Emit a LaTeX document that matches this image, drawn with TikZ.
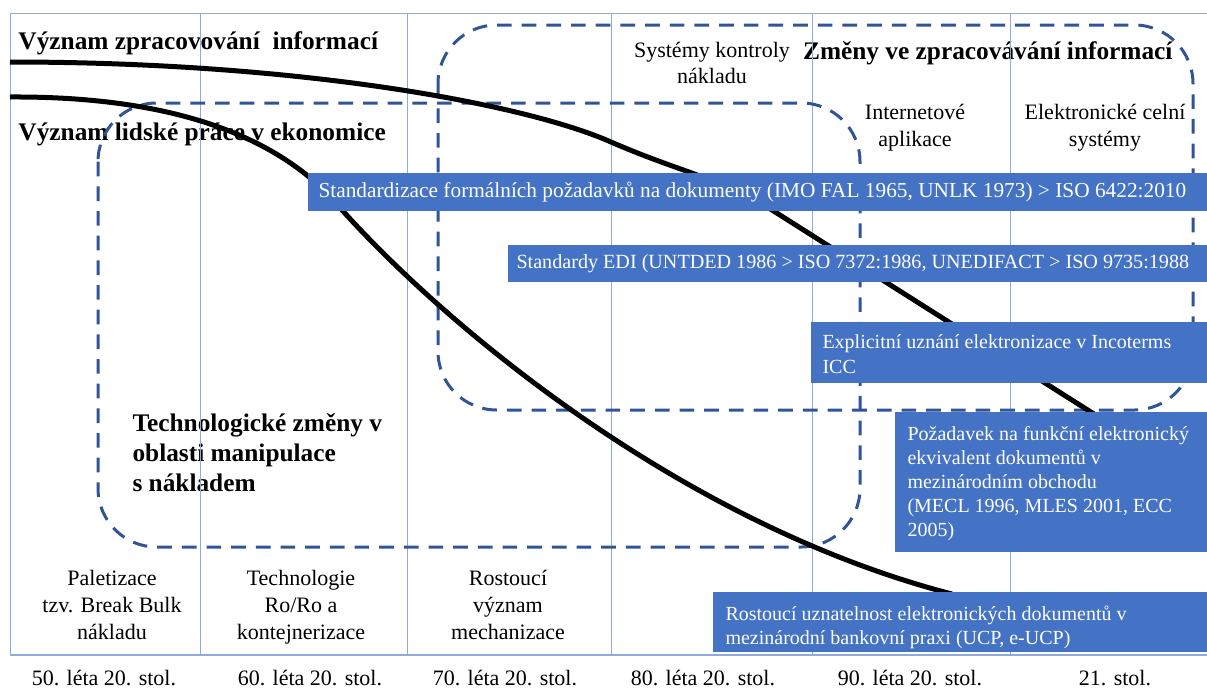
\documentclass[tikz,border=0pt]{standalone}
\usepackage{fontspec}
\setmainfont{Liberation Serif}

\definecolor{boxblue}{RGB}{68,114,196}
\definecolor{zoneblue}{RGB}{47,85,151}
\definecolor{gridblue}{RGB}{143,170,220}

\tikzset{every picture/.style={line width=0.75pt}}
\tikzset{
	gridline/.style={draw=gridblue, line width=0.75pt},
	zone/.style={draw=zoneblue, line width=2.25pt, dash pattern=on 11pt off 7.5pt, rounded corners=44pt},
	trend/.style={draw=black, line width=3.75pt},
	infobox/.style={fill=boxblue},
	boxtext/.style={text=white, inner sep=0pt, align=left, font=\fontsize{15}{18}\selectfont},
	headtext/.style={inner sep=0pt, align=left, font=\fontsize{19}{22.5}\selectfont\bfseries},
	coltext/.style={inner sep=0pt, align=center, font=\fontsize{16.5}{20}\selectfont},
}

\begin{document}
\begin{tikzpicture}[x=0.75pt,y=0.75pt,yscale=-1,xscale=1]
	\useasboundingbox (0,0) rectangle (1207,689);

	% Text Node
	\node[headtext, anchor=west] (zpracovani) at (18,43) {Význam zpracovování\ \ informací};
	% Text Node
	\node[headtext, anchor=west] (lidskaprace) at (18,134) {Význam lidské práce v ekonomice};
	% Text Node
	\node[headtext, anchor=east] (zmeny) at (1173,53) {Změny ve zpracovávání informací};
	% Text Node
	\node[headtext, anchor=north west] (manipulace) at (132,413) {Technologické změny v\\oblasti manipulace\\s nákladem};

	% Text Node
	\node[coltext, anchor=north, font=\fontsize{16.5}{19}\selectfont] (kontroly) at (712,42) {Systémy kontroly\\nákladu};
	% Text Node
	\node[coltext, anchor=north] (internet) at (915,104) {Internetové\\aplikace};
	% Text Node
	\node[coltext, anchor=north] (celni) at (1105,104) {Elektronické celní\\systémy};
	% Text Node
	\node[coltext, anchor=north] (paletizace) at (112,570) {Paletizace\\tzv. Break Bulk\\nákladu};
	% Text Node
	\node[coltext, anchor=north] (roro) at (301,570) {Technologie\\Ro/Ro a\\kontejnerizace};
	% Text Node
	\node[coltext, anchor=north] (mechanizace) at (508,570) {Rostoucí\\význam\\mechanizace};

	% Text Node
	\node[coltext] (leta50) at (104,678) {50. léta 20. stol.};
	% Text Node
	\node[coltext] (leta60) at (310,678) {60. léta 20. stol.};
	% Text Node
	\node[coltext] (leta70) at (505,678) {70. léta 20. stol.};
	% Text Node
	\node[coltext] (leta80) at (703,678) {80. léta 20. stol.};
	% Text Node
	\node[coltext] (leta90) at (910,678) {90. léta 20. stol.};
	% Text Node
	\node[coltext] (stol21) at (1115,678) {21. stol.};

	%Straight Lines [grid]
	\draw[gridline] (10,13) -- (1207,13);
	\draw[gridline, line width=1.2pt] (10,655) -- (1207,655);
	\draw[gridline] (10,13) -- (10,655);
	\draw[gridline] (200,13) -- (200,655);
	\draw[gridline] (407,13) -- (407,655);
	\draw[gridline] (611,13) -- (611,655);
	\draw[gridline] (812,13) -- (812,655);
	\draw[gridline] (1010,13) -- (1010,655);

	%Shape: Rounded Rect [dashed zones]
	\draw[zone] (98,103) rectangle (860,547);
	\draw[zone] (438,25) rectangle (1193,410);

	%Curve Lines
	\draw[trend] (10,62) .. controls (300,62) and (525,104) .. (611,142) .. controls (680,172) and (720,178) .. (772,210) -- (1094,414);
	\draw[trend] (10,97) .. controls (180,96) and (285,140) .. (342,210) .. controls (450,330) and (685,525) .. (952,594);

	%Shape: Rectangle
	\fill[infobox] (308,173) rectangle (1207,211);
	% Text Node
	\node[boxtext, anchor=west, font=\fontsize{16}{19}\selectfont] (formalni) at (318,192) {Standardizace formálních požadavků na dokumenty (IMO FAL 1965, UNLK 1973) > ISO 6422:2010};
	%Shape: Rectangle
	\fill[infobox] (508,245) rectangle (1207,282);
	% Text Node
	\node[boxtext, anchor=west, font=\fontsize{15.1}{18}\selectfont] (edi) at (516,264) {Standardy EDI (UNTDED 1986 > ISO 7372:1986, UNEDIFACT > ISO 9735:1988};
	%Shape: Rectangle
	\fill[infobox] (811,322) rectangle (1207,383);
	% Text Node
	\node[boxtext, anchor=north west, font=\fontsize{15}{18.75}\selectfont] (incoterms) at (822,334) {Explicitní uznání elektronizace v Incoterms\\ICC};
	%Shape: Rectangle
	\fill[infobox] (895,412) rectangle (1207,552);
	% Text Node
	\node[boxtext, anchor=north west] (ekvivalent) at (907,426) {Požadavek na funkční elektronický\\ekvivalent dokumentů v\\mezinárodním obchodu\\(MECL 1996, MLES 2001, ECC\\2005)};
	%Shape: Rectangle
	\fill[infobox] (713,592) rectangle (1207,652);
	% Text Node
	\node[boxtext, anchor=north west] (bankovni) at (725,606) {Rostoucí uznatelnost elektronických dokumentů v\\mezinárodní bankovní praxi (UCP, e-UCP)};

\end{tikzpicture}
\end{document}
